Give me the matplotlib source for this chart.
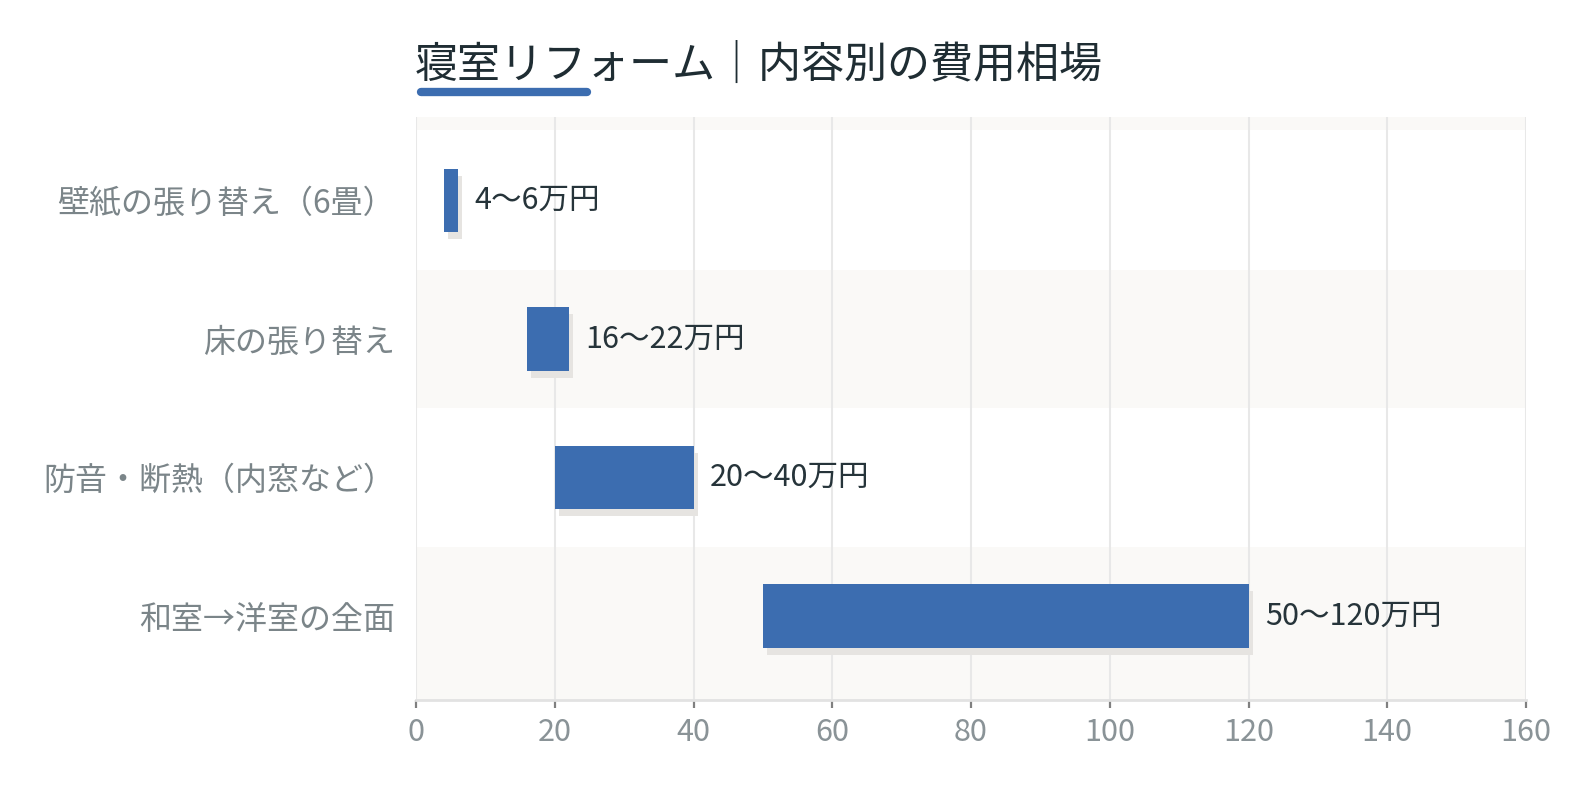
import matplotlib
matplotlib.use("Agg")
import matplotlib.pyplot as plt
import matplotlib.transforms as mtransforms
from matplotlib.lines import Line2D

plt.rcParams['font.family'] = ['Noto Sans CJK JP', 'DejaVu Sans']

categories = ["壁紙の張り替え（6畳）", "床の張り替え", "防音・断熱（内窓など）", "和室→洋室の全面"]
low = [4, 16, 20, 50]
high = [6, 22, 40, 120]
value_labels = ["4〜6万円", "16〜22万円", "20〜40万円", "50〜120万円"]
xticks = [0, 20, 40, 60, 80, 100, 120, 140, 160]
title = "寝室リフォーム｜内容別の費用相場"

BAR = "#3c6db0"
SHADOW = "#e6e4e1"
BAND = "#faf9f7"
GRID = "#e8e8e8"

fig = plt.figure(figsize=(15.96, 7.89), dpi=100)
ax = fig.add_axes([416/1596, 89/789, 1110/1596, 583/789])

ytop, ybot = -0.603, 3.606
ax.set_ylim(ybot, ytop)
ax.set_xlim(0, 160)

# alternating bands
ax.axhspan(ytop, -0.51, color=BAND, zorder=0, lw=0)
ax.axhspan(0.5, 1.5, color=BAND, zorder=0, lw=0)
ax.axhspan(2.5, ybot, color=BAND, zorder=0, lw=0)

ax.set_xticks(xticks)
ax.grid(axis='x', color=GRID, lw=1.5, zorder=1)
ax.set_axisbelow(True)

ypos = list(range(len(categories)))
widths = [h - l for l, h in zip(low, high)]
shadow_tr = mtransforms.offset_copy(ax.transData, fig=fig, x=4, y=-7, units='dots')
ax.barh(ypos, widths, left=low, height=0.46, color=SHADOW, zorder=2, transform=shadow_tr)
ax.barh(ypos, widths, left=low, height=0.46, color=BAR, zorder=3)

for y, h, t in zip(ypos, high, value_labels):
    ax.annotate(t, xy=(h, y), xytext=(12, 0), textcoords='offset points',
                va='center', ha='left', fontsize=22, color="#26343a", zorder=4)

ax.set_yticks(ypos)
ax.set_yticklabels(categories, fontsize=23, color="#7b8589")
ax.tick_params(axis='y', length=0, pad=15)
ax.tick_params(axis='x', length=6, width=1.6, color="#808080", labelsize=22,
               labelcolor="#8a9397", pad=6)
ax.set_xticklabels([str(v) for v in xticks])

for s in ['top', 'right', 'left']:
    ax.spines[s].set_visible(False)
ax.spines['bottom'].set_color("#e2e2e2")
ax.spines['bottom'].set_linewidth(2)

fig.text(415/1596, 1 - 66/789, title, fontsize=31, color="#1f2d33",
         ha='left', va='center')
fig.add_artist(Line2D([421/1596, 587/1596], [1 - 92/789, 1 - 92/789],
                      transform=fig.transFigure, color=BAR, lw=6,
                      solid_capstyle='round'))

fig.savefig("out.png", dpi=100, facecolor="white")
